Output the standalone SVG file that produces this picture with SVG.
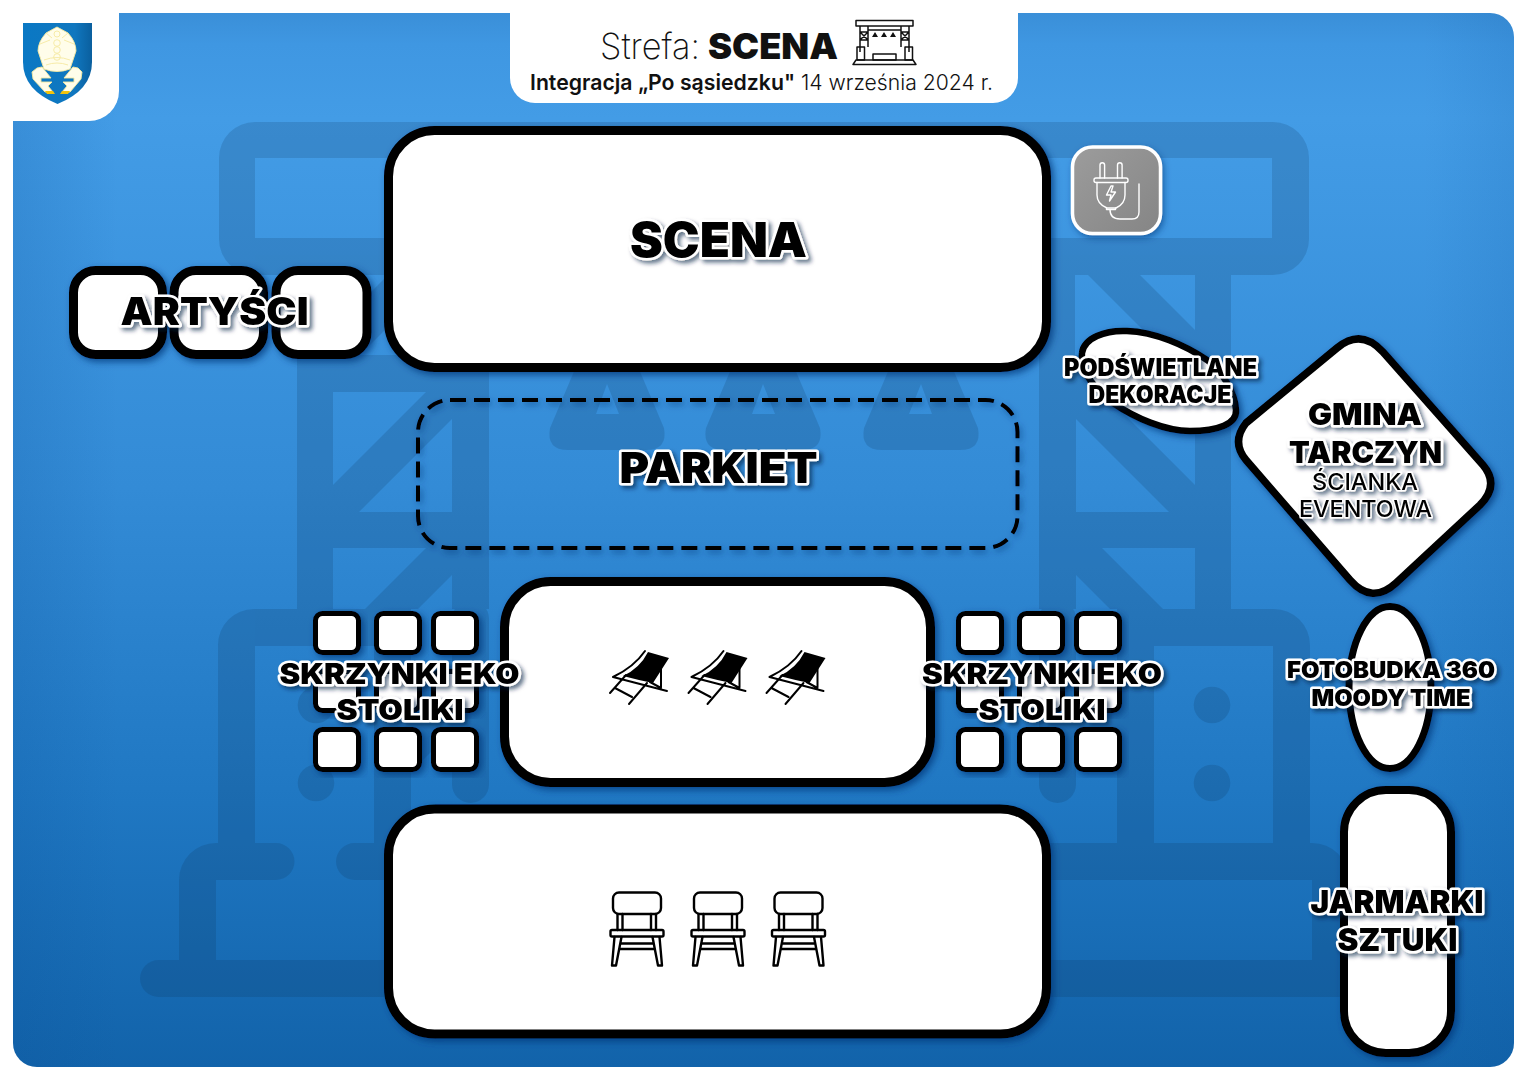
<svg xmlns="http://www.w3.org/2000/svg" xmlns:xlink="http://www.w3.org/1999/xlink" width="1527" height="1080" viewBox="0 0 1527 1080">
<style>
.n{fill:#fff;stroke:#000;stroke-width:9;filter:url(#ns)}
.t{fill:#fff;stroke:#000;stroke-width:5;filter:url(#ns)}
.lb{font-family:Inter,"Liberation Sans",sans-serif;font-weight:900;text-anchor:middle;fill:#000;stroke:#fff;stroke-width:5;paint-order:stroke;stroke-linejoin:round;filter:url(#ts)}
.lr{font-family:Inter,"Liberation Sans",sans-serif;font-weight:500;text-anchor:middle;fill:#000;stroke:#fff;stroke-width:3;paint-order:stroke;stroke-linejoin:round;filter:url(#ts)}
.h{font-family:Inter,"Liberation Sans",sans-serif;fill:#111}
.ci{fill:none;stroke:#000;stroke-width:2.4;stroke-linejoin:round;stroke-linecap:round}
.si{fill:none;stroke:#111;stroke-width:1.5;stroke-linejoin:round}
.pl{fill:none;stroke:#fff;stroke-width:1.4;stroke-linejoin:round;stroke-linecap:round}
.bg{fill:#0c2f52}
.he{fill:#fffdea;stroke:#f5e9a0;stroke-width:.9;stroke-linejoin:round}
.hl{fill:none;stroke:#f5e9a0;stroke-width:.9}
</style>
<defs>
<linearGradient id="bgG" x1="0" y1="0" x2="0" y2="1">
<stop offset="0" stop-color="#3a8fd8"/><stop offset=".03" stop-color="#3f97e2"/><stop offset=".1" stop-color="#439ce6"/><stop offset=".45" stop-color="#338bd6"/><stop offset=".75" stop-color="#1f77c2"/><stop offset="1" stop-color="#1263aa"/>
</linearGradient>
<linearGradient id="edge" x1="0" y1="0" x2="1" y2="0">
<stop offset="0" stop-color="#0a4f96" stop-opacity=".18"/><stop offset=".07" stop-color="#0a4f96" stop-opacity="0"/><stop offset=".94" stop-color="#0a4f96" stop-opacity="0"/><stop offset="1" stop-color="#0a4f96" stop-opacity=".12"/>
</linearGradient>
<linearGradient id="gr" x1="0" y1="0" x2="1" y2="1"><stop offset="0" stop-color="#9c9c9c"/><stop offset="1" stop-color="#858585"/></linearGradient>
<linearGradient id="sh" x1="0" y1="0" x2="1" y2="0"><stop offset="0" stop-color="#0a78c4"/><stop offset=".75" stop-color="#1077bf"/><stop offset="1" stop-color="#0a5f9e"/></linearGradient>
<filter id="ns" x="-20%" y="-20%" width="140%" height="140%"><feDropShadow dx="3" dy="3" stdDeviation="3.5" flood-color="#003878" flood-opacity=".75"/></filter>
<filter id="ds" x="-20%" y="-20%" width="140%" height="140%"><feDropShadow dx="2" dy="3" stdDeviation="3" flood-color="#003878" flood-opacity=".55"/></filter>
<filter id="ts" x="-20%" y="-30%" width="140%" height="170%"><feDropShadow dx="3" dy="3" stdDeviation="2.2" flood-color="#001a40" flood-opacity=".6"/></filter>
<clipPath id="panel"><rect x="13" y="13" width="1501" height="1054" rx="24"/></clipPath>
<g id="half">
<path fill-rule="evenodd" d="M297 275H489V609H297ZM333 275H388L333 330ZM453 275H440L360 355H453ZM333 392H426L333 485ZM452 419V512H359ZM333 548H426L365 609H333ZM452 575V609H418Z"/>
<rect x="452" y="600" width="37" height="203" rx="18.5"/>
<path d="M411 668H452V731L411 772Z"/>
<path d="M218 843V645A36 36 0 0 1 254 609H411V843H374V646H255V843Z"/>
<circle cx="316" cy="705" r="18.3"/><circle cx="316" cy="783" r="18.3"/>
<path fill-rule="evenodd" d="M581 355L550 428Q546 450 568 450H646Q668 450 664 428L633 355ZM607 384L596 414H619Z"/>
</g>
<g id="chair">
<rect class="ci" x="613" y="892.500" width="48" height="21.500" rx="6"/>
<path class="ci" d="M617.500 914V930M622.500 914V930M651 914V930M656 914V930"/>
<rect class="ci" x="610.500" y="930" width="53" height="6.500" rx="1.500"/>
<path class="ci" d="M614.500 937L612 965.500H616L621.500 937M659.500 937L662 965.500H658L652.500 937M621 943.500H653M620 949H654"/>
</g>
<g id="deck">
<path d="M648 652L669 658L653 683Q638 680 623 676Q640 668 648 652Z"/>
<path fill="none" stroke="#000" stroke-width="2" stroke-linecap="round" d="M613 677L667 691M610 693L626 675M629 704L647 683M615 688L632 697M661 667V687M650 682L661 688M645 651Q634 667 613 677"/>
</g>
</defs>

<rect width="1527" height="1080" fill="#fff"/>
<g id="background">
<rect x="13" y="13" width="1501" height="1054" rx="24" fill="url(#bgG)"/>
<rect x="13" y="13" width="1501" height="1054" rx="24" fill="url(#edge)"/>
<g clip-path="url(#panel)" opacity=".17" class="bg">
<path fill-rule="evenodd" d="M255 122H1273A36 36 0 0 1 1309 158V239A36 36 0 0 1 1273 275H255A36 36 0 0 1 219 239V158A36 36 0 0 1 255 122ZM255 158V238H1272V158Z"/>
<use xlink:href="#half"/>
<use xlink:href="#half" transform="translate(1528 0) scale(-1 1)"/>
<path fill-rule="evenodd" d="M737 355L706 428Q702 450 724 450H802Q824 450 820 428L789 355ZM763 384L752 414H775Z"/>
<path d="M179 960V880A37 37 0 0 1 216 843H276A18.500 18.500 0 0 1 276 880H216V960Z"/>
<path d="M354.500 843H1312A37 37 0 0 1 1349 880V960H1312V880H354.500A18.500 18.500 0 0 1 354.500 843Z"/>
<rect x="140" y="960" width="1248" height="37" rx="18.500"/>
</g>
</g>

<g id="logo-tab">
<path fill="#fff" d="M13 13H119V91A30 30 0 0 1 89 121H13Z"/>
<g id="herb">
<path fill="url(#sh)" d="M23 23H92V62Q92 90 57.500 104Q23 90 23 62Z"/>
<path class="he" d="M57 27L68 33Q76 42 76 51L70 69Q57 74 44 69L38 51Q38 42 46 33Z"/>
<path class="hl" d="M44 60Q57 55 70 60M46 65Q57 61 68 65M46 33L52 38M68 33L62 38M40 44L50 40M74 44L64 40"/>
<circle class="hl" cx="57" cy="34" r="3"/><circle class="hl" cx="57" cy="43" r="3.300"/><circle class="hl" cx="57" cy="50" r="3.300"/><circle class="hl" cx="57" cy="57" r="3.300"/>
<path class="he" d="M32 72L37 68L42 67L51 78H41V82H52L48 86L53 92H45L33 79Z"/>
<path class="he" d="M82 72L78 68L73 67L64 78H74V82H63L67 86L62 92H70L81 79Z"/>
<path fill="#f2c40d" d="M45 91H53L55 94H47ZM62 91H70L68 94H60Z"/>
</g>
</g>

<g id="title">
<path fill="#fff" d="M510 13H1018V78A25 25 0 0 1 993 103H535A25 25 0 0 1 510 78Z"/>
<text class="h" x="600" y="59" font-size="36" font-weight="200" textLength="100" lengthAdjust="spacingAndGlyphs">Strefa:</text>
<text class="h" x="708" y="59" font-size="36" font-weight="900" textLength="130" lengthAdjust="spacingAndGlyphs">SCENA</text>
<text class="h" x="530" y="90" font-size="22" font-weight="600" textLength="265" lengthAdjust="spacingAndGlyphs">Integracja „Po sąsiedzku"</text>
<text class="h" x="801" y="90" font-size="22" font-weight="300" textLength="192" lengthAdjust="spacingAndGlyphs">14 września 2024 r.</text>
<g id="stage-icon">
<rect class="si" x="856" y="20.500" width="57" height="5.500"/>
<path class="si" d="M860 26V52M868 26V47M901 26V47M909 26V52M860 32H868M860 40H868M901 32H909M901 40H909M860 32L868 40M868 32L860 40M901 32L909 40M909 32L901 40M868 30H901"/>
<path fill="#111" d="M875 32L878 37H872ZM884 32L887 37H881ZM893 32L896 37H890Z"/>
<rect class="si" x="857" y="47" width="7.500" height="13"/>
<rect class="si" x="905" y="47" width="7.500" height="13"/>
<rect class="si" x="873" y="54" width="23" height="6"/>
<path class="si" d="M856 60H913L916 64.500H853Z"/>
</g>
</g>

<g id="scena">
<rect class="n" x="388.500" y="130.500" width="658" height="237" rx="46"/>
<text class="lb" x="718.500" y="257" font-size="48" textLength="177" lengthAdjust="spacingAndGlyphs">SCENA</text>
</g>

<g id="artysci">
<rect class="n" x="73.500" y="270.500" width="89" height="84" rx="22"/>
<rect class="n" x="174" y="270.500" width="89.500" height="84" rx="22"/>
<rect class="n" x="276" y="270.500" width="91" height="84" rx="22"/>
<text class="lb" x="214.500" y="325" font-size="38" textLength="188" lengthAdjust="spacingAndGlyphs">ARTYŚCI</text>
</g>

<g id="zasilanie">
<rect x="1072.500" y="147" width="88" height="86.500" rx="20" fill="url(#gr)" stroke="#fff" stroke-width="3.500" filter="url(#ds)"/>
<path class="pl" d="M1100 178V165A2.300 2.300 0 0 1 1104.600 165V178M1117.500 178V165A2.300 2.300 0 0 1 1122.100 165V178"/>
<rect class="pl" x="1094" y="178" width="34" height="4.500" rx="2"/>
<path class="pl" d="M1097 182.500V195Q1097 204 1107 208H1116Q1125 204 1125 195V182.500"/>
<path class="pl" d="M1106.500 208V209.500H1115.500V208M1110 209.500Q1110 219 1120 219H1132Q1139 219 1139 212V184"/>
<path class="pl" d="M1111 186L1106.500 195H1111L1109.500 201L1115.500 192H1111L1113 186Z"/>
</g>

<g id="parkiet">
<rect x="418" y="400" width="599.500" height="148" rx="32" fill="none" stroke="#000" stroke-width="4" stroke-dasharray="16 8" filter="url(#ds)"/>
<text class="lb" x="718.500" y="483" font-size="42" textLength="198" lengthAdjust="spacingAndGlyphs">PARKIET</text>
</g>

<g id="dekoracje">
<path fill="#fff" stroke="#000" stroke-width="6.500" filter="url(#ns)" d="M1082 353C1084 338 1105 330 1127 331C1155 332 1185 345 1207 360C1222 371 1235 392 1236 410C1237 424 1218 431 1190 431C1165 431 1135 418 1113 403C1098 392 1079 372 1082 353Z"/>
<text class="lb" x="1160.500" y="376" font-size="24" stroke-width="3.500" textLength="193" lengthAdjust="spacingAndGlyphs">PODŚWIETLANE</text>
<text class="lb" x="1160" y="403" font-size="24" stroke-width="3.500" textLength="143" lengthAdjust="spacingAndGlyphs">DEKORACJE</text>
</g>

<g id="scianka">
<path fill="#fff" stroke="#000" stroke-width="7.500" filter="url(#ns)" d="M1246 423L1337 348Q1361 328 1383 352L1483 465Q1500 485 1480 505L1396 583Q1372 605 1350 580L1246 460Q1231 442 1246 423Z"/>
<text class="lb" x="1365" y="425" font-size="30" stroke-width="3" textLength="114" lengthAdjust="spacingAndGlyphs">GMINA</text>
<text class="lb" x="1365.500" y="463" font-size="30" stroke-width="3" textLength="153" lengthAdjust="spacingAndGlyphs">TARCZYN</text>
<text class="lr" x="1365" y="490" font-size="23" textLength="106" lengthAdjust="spacingAndGlyphs">ŚCIANKA</text>
<text class="lr" x="1365.500" y="517" font-size="23" textLength="133" lengthAdjust="spacingAndGlyphs">EVENTOWA</text>
</g>

<g id="lezaki">
<rect class="n" x="504.500" y="581.500" width="426" height="201" rx="46"/>
<use xlink:href="#deck"/><use xlink:href="#deck" x="78.500"/><use xlink:href="#deck" x="156.500"/>
</g>

<g id="krzesla">
<rect class="n" x="388.500" y="809" width="658" height="225" rx="46"/>
<use xlink:href="#chair"/><use xlink:href="#chair" x="81"/><use xlink:href="#chair" x="161.500"/>
</g>

<g id="stoliki-lewe">
<rect class="t" x="315.500" y="613.500" width="43" height="39" rx="7"/><rect class="t" x="376.500" y="613.500" width="43" height="39" rx="7"/><rect class="t" x="433.500" y="613.500" width="43" height="39" rx="7"/>
<rect class="t" x="315.500" y="671.500" width="43" height="39" rx="7"/><rect class="t" x="376.500" y="671.500" width="43" height="39" rx="7"/><rect class="t" x="433.500" y="671.500" width="43" height="39" rx="7"/>
<rect class="t" x="315.500" y="729.500" width="43" height="40" rx="7"/><rect class="t" x="376.500" y="729.500" width="43" height="40" rx="7"/><rect class="t" x="433.500" y="729.500" width="43" height="40" rx="7"/>
<text class="lb" x="399.500" y="684" font-size="28" textLength="240" lengthAdjust="spacingAndGlyphs">SKRZYNKI EKO</text>
<text class="lb" x="400" y="720" font-size="28" textLength="127" lengthAdjust="spacingAndGlyphs">STOLIKI</text>
</g>

<g id="stoliki-prawe">
<rect class="t" x="958.500" y="613.500" width="43" height="39" rx="7"/><rect class="t" x="1019.500" y="613.500" width="43" height="39" rx="7"/><rect class="t" x="1076.500" y="613.500" width="43" height="39" rx="7"/>
<rect class="t" x="958.500" y="671.500" width="43" height="39" rx="7"/><rect class="t" x="1019.500" y="671.500" width="43" height="39" rx="7"/><rect class="t" x="1076.500" y="671.500" width="43" height="39" rx="7"/>
<rect class="t" x="958.500" y="729.500" width="43" height="40" rx="7"/><rect class="t" x="1019.500" y="729.500" width="43" height="40" rx="7"/><rect class="t" x="1076.500" y="729.500" width="43" height="40" rx="7"/>
<text class="lb" x="1042" y="684" font-size="28" textLength="240" lengthAdjust="spacingAndGlyphs">SKRZYNKI EKO</text>
<text class="lb" x="1042" y="720" font-size="28" textLength="127" lengthAdjust="spacingAndGlyphs">STOLIKI</text>
</g>

<g id="fotobudka">
<ellipse cx="1390" cy="687.500" rx="41" ry="81" fill="#fff" stroke="#000" stroke-width="7" filter="url(#ns)"/>
<text class="lb" x="1391" y="678" font-size="23" stroke-width="3.500" textLength="208" lengthAdjust="spacingAndGlyphs">FOTOBUDKA 360</text>
<text class="lb" x="1391" y="706" font-size="23" stroke-width="3.500" textLength="159" lengthAdjust="spacingAndGlyphs">MOODY TIME</text>
</g>

<g id="jarmarki">
<rect x="1344" y="790" width="107" height="263" rx="42" fill="#fff" stroke="#000" stroke-width="8" filter="url(#ns)"/>
<text class="lb" x="1397" y="913" font-size="31" stroke-width="4" textLength="173" lengthAdjust="spacingAndGlyphs">JARMARKI</text>
<text class="lb" x="1397.500" y="951" font-size="31" stroke-width="4" textLength="120" lengthAdjust="spacingAndGlyphs">SZTUKI</text>
</g>
</svg>
